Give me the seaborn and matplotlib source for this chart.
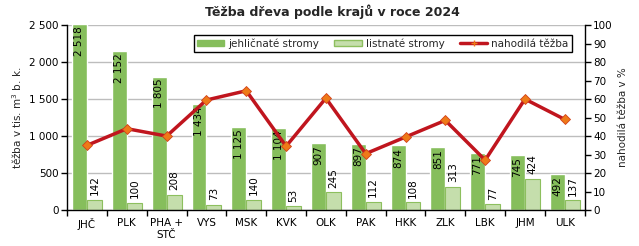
import numpy as np
import pandas as pd
import seaborn as sns
import matplotlib.pyplot as plt
from matplotlib.ticker import FuncFormatter, FixedLocator
from matplotlib.patches import Patch
from matplotlib.lines import Line2D

kraje = ["JHČ", "PLK", "PHA +\nSTČ", "VYS", "MSK", "KVK", "OLK", "PAK", "HKK", "ZLK", "LBK", "JHM", "ULK"]
jehlicnate = [2518, 2152, 1805, 1434, 1125, 1104, 907, 897, 874, 851, 771, 745, 492]
listnate = [142, 100, 208, 73, 140, 53, 245, 112, 108, 313, 77, 424, 137]
nahodila = [35, 44, 40, 59.5, 64.5, 34.5, 60.5, 30.5, 39.5, 48.5, 27, 60, 49]

sns.set_theme(style="white")
plt.rcParams["font.family"] = ["DejaVu Sans"]

df = pd.DataFrame({"kraj": kraje, "jehličnaté stromy": jehlicnate, "listnaté stromy": listnate})
df = df.melt(id_vars="kraj", var_name="druh", value_name="tezba")

fig = plt.figure(figsize=(6.39, 2.46), dpi=100)
ax = fig.add_axes([0.105, 0.146, 0.81, 0.752])

sns.barplot(data=df, x="kraj", y="tezba", hue="druh", order=kraje,
            palette=["#86BE5C", "#C5DEAC"], saturation=1, width=0.75, gap=0,
            ax=ax, legend=False)

for p in ax.patches[len(kraje):2 * len(kraje)]:
    p.set_edgecolor("#8DBF5E")
    p.set_linewidth(0.8)

# hodnoty u sloupců
for i, v in enumerate(jehlicnate):
    ax.text(i - 0.19, v - 30, f"{v:,}".replace(",", " "), rotation=90, ha="center", va="top",
            fontsize=7.5, color="black")
for i, v in enumerate(listnate):
    ax.text(i + 0.19, v + 60, f"{v}", rotation=90, ha="center", va="bottom",
            fontsize=7.5, color="black")

ax.set_ylim(0, 2500)
ax.set_xlim(-0.5, len(kraje) - 0.5)
ax.set_yticks(np.arange(0, 2501, 500))
ax.yaxis.set_major_formatter(FuncFormatter(lambda v, _: f"{int(v):,}".replace(",", " ")))
ax.yaxis.grid(True, color="#BDBDBD", linewidth=1)
ax.set_axisbelow(True)
ax.set_xlabel("")
ax.set_ylabel("těžba v tis. m$^3$ b. k.", fontsize=7.5, labelpad=4)
ax.tick_params(axis="both", labelsize=7.5, colors="black", pad=2)
ax.tick_params(axis="x", which="major", length=0, pad=6)
ax.xaxis.set_minor_locator(FixedLocator(np.arange(-0.5, len(kraje), 1)))
ax.tick_params(axis="x", which="minor", length=4, width=1, color="black", bottom=True)
ax.tick_params(axis="y", length=4, width=1, left=True, direction="out")
for s in ["top", "right"]:
    ax.spines[s].set_visible(False)
for s in ["left", "bottom"]:
    ax.spines[s].set_color("black")
    ax.spines[s].set_linewidth(1)

ax2 = ax.twinx()
ax2.plot(range(len(kraje)), nahodila, color="#C0151E", linewidth=2.5,
         marker="D", markersize=5, markerfacecolor="#EE7A18", markeredgecolor="#D2401A",
         markeredgewidth=0.6, zorder=5)
ax2.set_ylim(0, 100)
ax2.set_yticks(np.arange(0, 101, 10))
ax2.set_ylabel("nahodilá těžba v %", fontsize=7.5, labelpad=4)
ax2.tick_params(axis="y", labelsize=7.5, colors="black", length=4, width=1, right=True, pad=2)
for s in ["top", "left", "bottom"]:
    ax2.spines[s].set_visible(False)
ax2.spines["right"].set_color("black")
ax2.spines["right"].set_linewidth(1)

handles = [Patch(facecolor="#86BE5C", edgecolor="#86BE5C"),
           Patch(facecolor="#C5DEAC", edgecolor="#8DBF5E"),
           Line2D([0], [0], color="#C0151E", linewidth=2.5, marker="+", markersize=4,
                  markeredgecolor="#EE7A18")]
leg = ax2.legend(handles, ["jehličnaté stromy", "listnaté stromy", "nahodilá těžba"],
                 ncol=3, loc="upper right", bbox_to_anchor=(0.985, 0.975), fontsize=7.5,
                 frameon=True, fancybox=False, edgecolor="black", framealpha=1,
                 handlelength=2.6, handleheight=0.5, columnspacing=1.5, handletextpad=0.4,
                 borderpad=0.3)
leg.get_frame().set_linewidth(1)

fig.text(0.52, 0.922, "Těžba dřeva podle krajů v roce 2024", ha="center", va="bottom",
         fontsize=9, fontweight="bold")

fig.savefig("out.png", dpi=100, facecolor="white")
